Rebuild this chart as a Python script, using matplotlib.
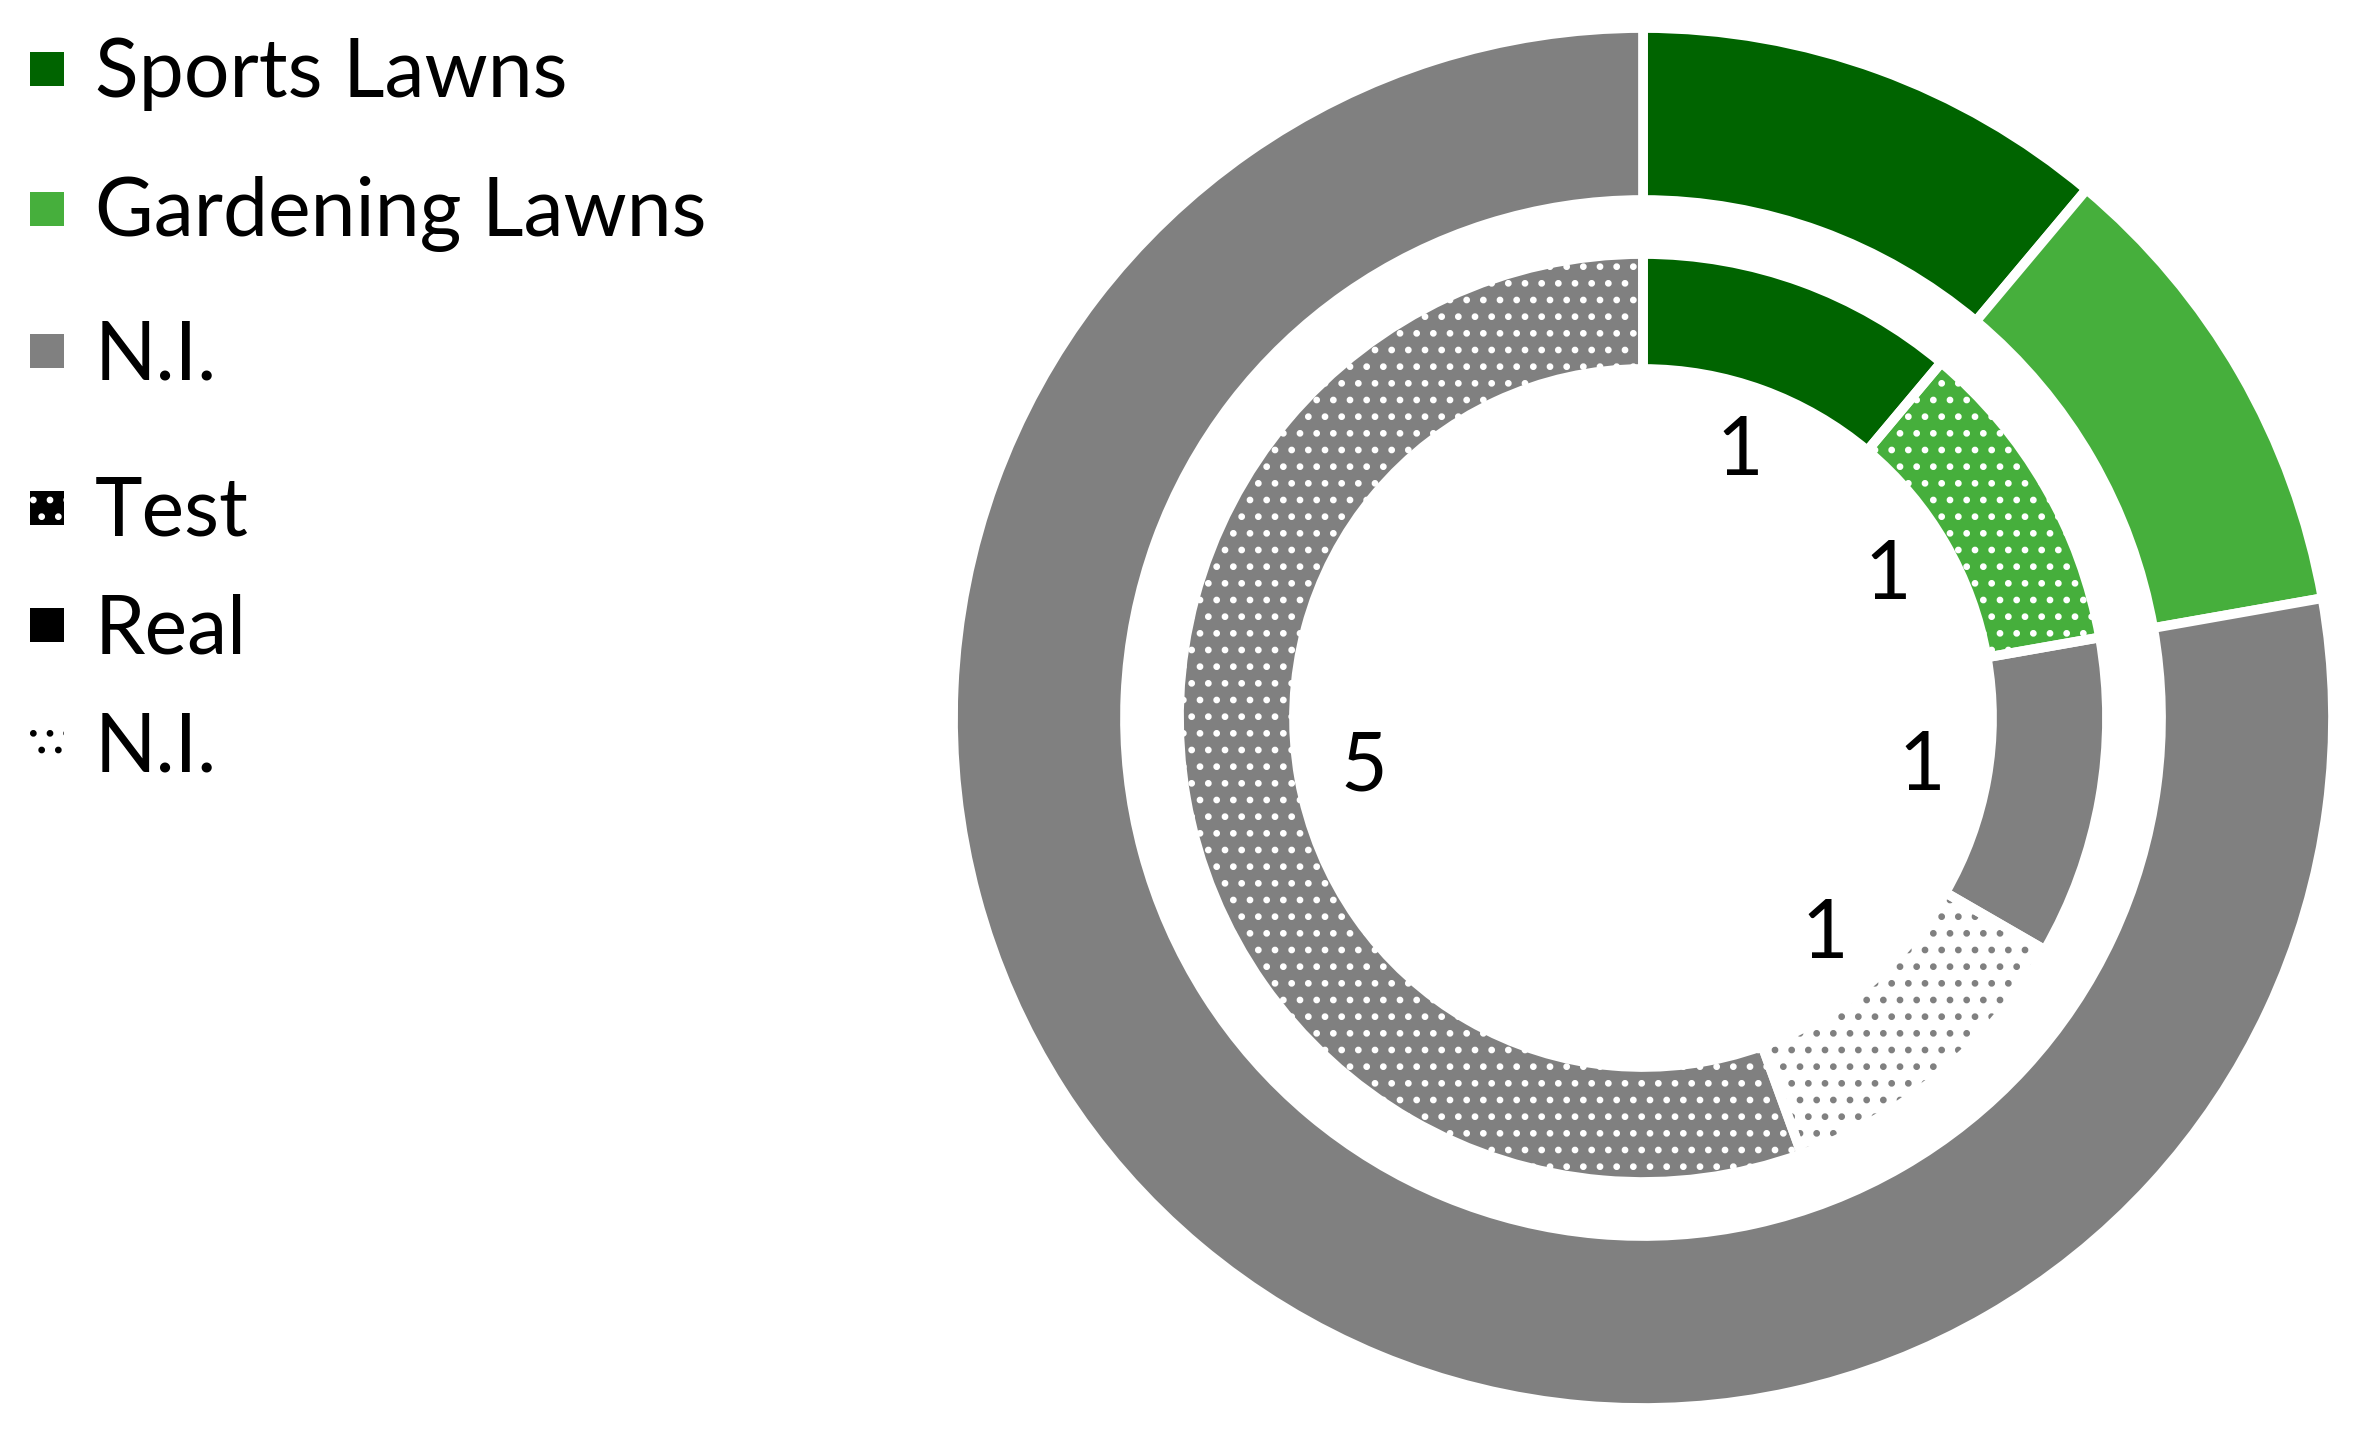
import matplotlib
matplotlib.use("Agg")
import matplotlib.pyplot as plt
from matplotlib.patches import Rectangle

# ---------------- data ----------------
outer_labels = ["Sports Lawns", "Gardening Lawns", "N.I."]
outer_values = [1, 1, 7]
outer_colors = ["#006400", "#46AF3C", "#808080"]

inner_groups = ["Sports Lawns", "Gardening Lawns", "N.I.", "N.I.", "N.I."]
inner_types = ["Real", "Test", "Real", "N.I.", "Test"]
inner_values = [1, 1, 1, 1, 5]

type_labels = ["Test", "Real", "N.I."]

# ---------------- style ----------------
plt.rcParams['font.family'] = ['Lato', 'DejaVu Sans']
plt.rcParams['hatch.linewidth'] = 2.4
W, H = 2361, 1436
DOT = "."
FS = 58
GAP_LW = 7

fig = plt.figure(figsize=(W / 100, H / 100), dpi=100)
ax = fig.add_axes([0, 0, 1, 1])

cx, cy = 1643, H - 718
R_out, R_out_in = 690, 518
R_in, R_in_in = 464, 349

color_of = dict(zip(outer_labels, outer_colors))

# outer ring
ax.pie(outer_values, colors=outer_colors, radius=R_out, center=(cx, cy),
       startangle=90, counterclock=False,
       wedgeprops=dict(width=R_out - R_out_in, edgecolor="white", linewidth=GAP_LW))

# inner ring: fills + hatches
faces, hatch_cols, hatches = [], [], []
for g, t in zip(inner_groups, inner_types):
    c = color_of[g]
    if t == "Real":
        faces.append(c); hatch_cols.append(c); hatches.append(None)
    elif t == "Test":
        faces.append(c); hatch_cols.append("white"); hatches.append(DOT)
    else:
        faces.append("white"); hatch_cols.append(c); hatches.append(DOT)

wedges, _ = ax.pie(inner_values, colors=faces, radius=R_in, center=(cx, cy),
                   startangle=90, counterclock=False,
                   wedgeprops=dict(width=R_in - R_in_in, linewidth=0))
for w, hc, h in zip(wedges, hatch_cols, hatches):
    w.set_edgecolor(hc)
    w.set_linewidth(0)
    if h:
        w.set_hatch(h)

total = sum(inner_values)
ax.pie(inner_values, colors=["none"] * len(inner_values), radius=R_in, center=(cx, cy),
       startangle=90, counterclock=False,
       autopct=lambda p: f"{round(p * total / 100)}", pctdistance=0.61,
       textprops=dict(fontsize=FS, color="black"),
       wedgeprops=dict(width=R_in - R_in_in, edgecolor="white", linewidth=GAP_LW))

# ---------------- legend ----------------
sq = 34
x_sq = 30
x_txt = 95
ys_outer = [69, 209, 351]
for lab, col, yt in zip(outer_labels, outer_colors, ys_outer):
    y = H - yt
    ax.add_patch(Rectangle((x_sq, y - sq / 2), sq, sq, facecolor=col, edgecolor=col, linewidth=0))
    ax.text(x_txt, y - 5, lab, fontsize=FS, va="center", ha="left")

ys_type = [508, 625, 744]
for lab, yt in zip(type_labels, ys_type):
    y = H - yt
    if lab == "Real":
        p = Rectangle((x_sq, y - sq / 2), sq, sq, facecolor="black", edgecolor="black", linewidth=0)
    elif lab == "Test":
        p = Rectangle((x_sq, y - sq / 2), sq, sq, facecolor="black", edgecolor="white", linewidth=0, hatch=DOT)
    else:
        p = Rectangle((x_sq, y - sq / 2), sq, sq, facecolor="white", edgecolor="black", linewidth=0, hatch=DOT)
    ax.add_patch(p)
    ax.text(x_txt, y - 5, lab, fontsize=FS, va="center", ha="left")

ax.set_xlim(0, W)
ax.set_ylim(0, H)
ax.set_aspect("equal")
ax.axis("off")

fig.savefig("out.png", dpi=100, facecolor="white")
